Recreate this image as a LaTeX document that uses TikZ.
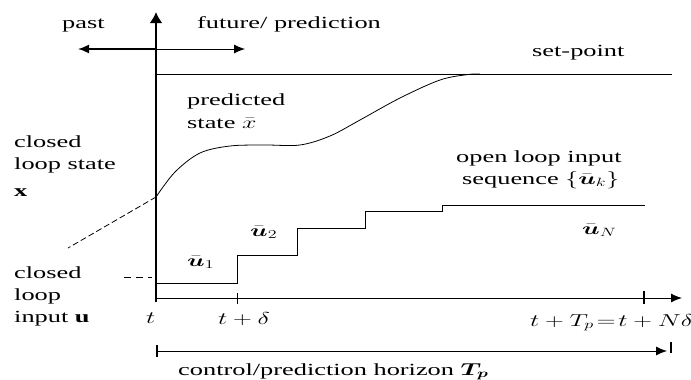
\documentclass[tikz,border=0pt]{standalone}
\usepackage{fontspec}
\usepackage{amsmath}
\usepackage{graphicx}
\setmainfont[FakeStretch=1.55]{Liberation Serif}
\usetikzlibrary{arrows.meta}
\newcommand\mth[1]{\scalebox{1.5}[1]{$#1$}}
\tikzset{
  lbl/.style={anchor=base west, inner sep=0pt, font=\fontsize{17}{22}\selectfont},
  thin line/.style={line width=0.8pt},
  tip/.style={-{Latex[length=11pt,width=9pt]}},
}
\begin{document}
\begin{tikzpicture}[x=1pt,y=-1pt]
\useasboundingbox (0,0) rectangle (691,380);
% coordinates
\coordinate (O) at (156,302);
\coordinate (Top) at (156,12);
\coordinate (PastL) at (78,49);
\coordinate (FutR) at (245,49);
\coordinate (PF0) at (156,49);
\coordinate (SP0) at (157,74);
\coordinate (SP1) at (672,74);
\coordinate (T0) at (156,298);
\coordinate (T1) at (682,298);
\coordinate (H0) at (157,351);
\coordinate (H1) at (667,351);
\coordinate (X0) at (156,197);
\coordinate (Xd) at (68,248);
% vertical axis
\draw[line width=2.2pt, -{Latex[length=11pt,width=13pt]}] (O) -- (Top);
% past / future
\draw[line width=1.6pt, tip] (PF0) -- (PastL);
\draw[thin line, tip] (PF0) -- (FutR);
% set-point
\draw[thin line] (SP0) -- (SP1);
% time axis
\draw[line width=1pt, tip] (T0) -- (T1);
\draw[line width=1pt] (237,293) -- (237,304);
\draw[line width=2pt] (644,291) -- (644,304);
% horizon
\draw[thin line, tip] (H0) -- (H1);
\draw[line width=1.8pt] (157,345) -- (157,357);
\draw[line width=1.6pt] (671,342) -- (671,353);
% predicted state curve
\draw[thin line] plot[smooth, tension=0.55] coordinates {(156,197) (175,172) (200,153) (230,146) (265,145) (300,145) (330,136) (360,120) (400,98) (440,80) (468,74.5) (480,74)};
% closed loop state (dashed)
\draw[thin line, dash pattern=on 6pt off 3pt] (X0) -- (Xd);
% closed loop input short dashes
\draw[thin line, dash pattern=on 7pt off 5pt] (124,277) -- (152,277);
% open loop input staircase
\draw[thin line] (157,283) -- (237,283) -- (237,255) -- (297,255) -- (297,228) -- (365,228) -- (365,211) -- (442,211) -- (442,205) -- (645,205);
% labels
\node[lbl] (past) at (62,28) {past};
\node[lbl] (fut) at (197,28) {future/ prediction};
\node[lbl] (sp) at (532,56) {set-point};
\node[lbl] (pr1) at (187,105) {predicted};
\node[lbl] (pr2) at (187,128) {state \mth{\bar{x}}};
\node[lbl] (cs1) at (14,147) {closed};
\node[lbl] (cs2) at (14,169) {loop state};
\node[lbl] (cs3) at (14,196) {\textbf{x}};
\node[lbl] (ol1) at (456,162) {open loop input};
\node[lbl] (ol2) at (462,184) {sequence \mth{\{\bar{\boldsymbol{u}}_k\}}};
\node[lbl] (uN) at (582,234) {\mth{\bar{\boldsymbol{u}}_N}};
\node[lbl] (u2) at (250,236) {\mth{\bar{\boldsymbol{u}}_2}};
\node[lbl] (u1) at (187,266) {\mth{\bar{\boldsymbol{u}}_1}};
\node[lbl] (ci1) at (14,278) {closed};
\node[lbl] (ci2) at (14,300) {loop};
\node[lbl] (ci3) at (14,322) {input \textbf{u}};
\node[lbl] (tl) at (146,323) {\mth{t}};
\node[lbl] (td) at (218,324) {\mth{t+\delta}};
\node[lbl] (tp) at (530,326) {\mth{t+T_p\!=\!t+N\delta}};
\node[lbl] (hz) at (178,375) {control/prediction horizon \mth{\boldsymbol{T_p}}};
\end{tikzpicture}
\end{document}
